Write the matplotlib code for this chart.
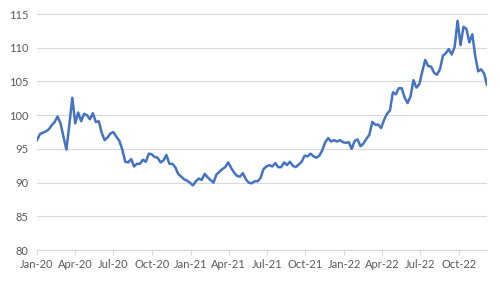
import pandas as pd
import matplotlib
matplotlib.use("Agg")
import matplotlib.pyplot as plt
import matplotlib.dates as mdates

# weekly readings, starting 1 Jan 2020
start_date = "2020-01-01"
values = [
    96.3, 97.2, 97.4, 97.6, 97.9, 98.5, 99.0, 99.8, 98.8, 96.8,
    94.9, 98.6, 102.6, 98.8, 100.4, 99.1, 100.2, 100.0, 99.4, 100.3,
    99.0, 99.1, 97.4, 96.3, 96.7, 97.3, 97.5, 96.8, 96.2, 94.9,
    93.1, 93.0, 93.5, 92.4, 92.8, 92.8, 93.4, 93.1, 94.3, 94.2,
    93.8, 93.7, 93.0, 93.3, 94.1, 92.8, 92.8, 92.3, 91.3, 90.9,
    90.5, 90.3, 90.0, 89.6, 90.2, 90.6, 90.4, 91.3, 90.8, 90.4,
    90.0, 91.2, 91.6, 92.0, 92.3, 93.0, 92.2, 91.5, 91.0, 90.9,
    91.4, 90.5, 90.0, 89.9, 90.2, 90.2, 90.7, 92.0, 92.4, 92.6,
    92.4, 92.9, 92.3, 92.3, 93.0, 92.6, 93.1, 92.5, 92.3, 92.7,
    93.1, 94.0, 93.9, 94.3, 93.9, 93.7, 94.0, 94.8, 96.0, 96.6,
    96.1, 96.3, 96.1, 96.3, 96.0, 95.9, 96.0, 95.0, 96.2, 96.4,
    95.4, 95.8, 96.5, 97.1, 99.0, 98.6, 98.6, 98.1, 99.3, 100.2,
    100.7, 103.4, 103.1, 104.0, 104.0, 102.6, 101.8, 102.8, 105.2, 104.1,
    104.6, 106.5, 108.2, 107.3, 107.2, 106.3, 106.0, 106.8, 108.8, 109.2,
    109.8, 109.0, 110.1, 114.0, 110.4, 113.1, 112.8, 110.8, 112.0, 108.8,
    106.5, 106.8, 106.2, 104.5,
]
y_ticks = [80, 85, 90, 95, 100, 105, 110, 115]

dates = pd.date_range(start_date, periods=len(values), freq="7D")

plt.rcParams["font.family"] = ["Lato", "DejaVu Sans"]

fig = plt.figure(figsize=(5, 2.81), dpi=100)
ax = fig.add_axes([0.074, 0.110, 0.900, 0.840])

ax.plot(dates, values, color="#4472C4", linewidth=1.8)

ax.set_ylim(80, 115)
ax.set_yticks(y_ticks)
ax.set_xlim(dates[0], dates[-1])
ax.xaxis.set_major_locator(mdates.MonthLocator(bymonth=[1, 4, 7, 10]))
ax.xaxis.set_major_formatter(mdates.DateFormatter("%b-%y"))

ax.grid(axis="y", color="#d9d9d9", linewidth=0.8)
ax.set_axisbelow(True)
for side in ["top", "right", "left"]:
    ax.spines[side].set_visible(False)
ax.spines["bottom"].set_color("#d9d9d9")
ax.spines["bottom"].set_linewidth(0.8)

ax.tick_params(axis="y", length=0, labelsize=8, labelcolor="#595959", pad=6)
ax.tick_params(axis="x", length=3.5, color="#d9d9d9", labelsize=8,
               labelcolor="#595959", pad=3)

fig.savefig("out.png", dpi=100)
